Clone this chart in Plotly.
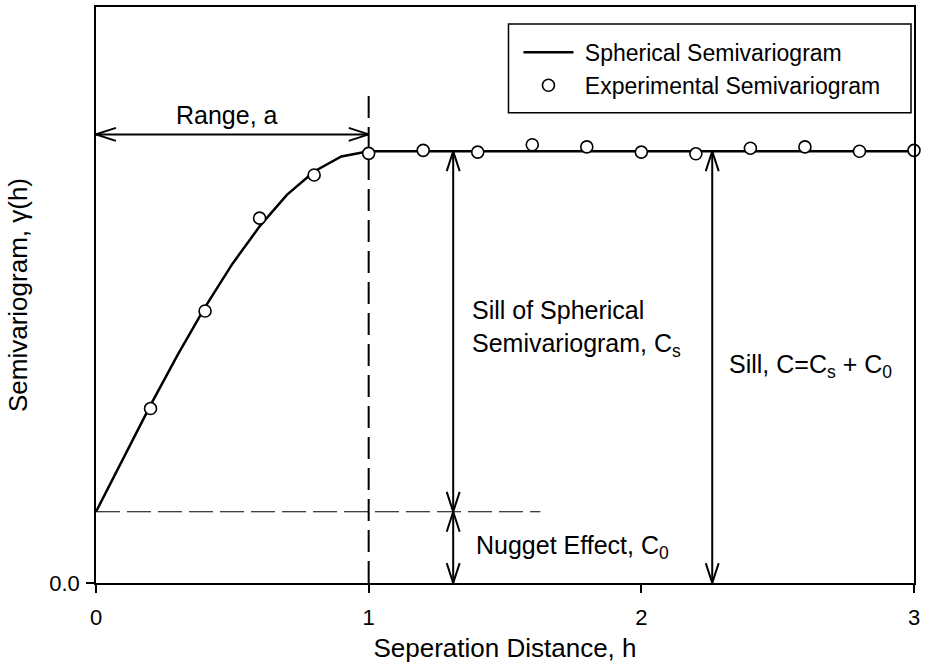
import plotly.graph_objects as go

# ---- data -------------------------------------------------------------
# fitted spherical model (nugget + spherical structure, range a = 1)
h_model = [0.0, 0.1, 0.2, 0.3, 0.4, 0.5, 0.6, 0.7, 0.8, 0.9, 1.0, 3.0]
gamma_model = [0.165, 0.290, 0.412, 0.529, 0.639, 0.739, 0.826, 0.899,
               0.953, 0.988, 1.000, 1.000]

# experimental semivariogram
h_exp = [0.2, 0.4, 0.6, 0.8, 1.0, 1.2, 1.4, 1.6, 1.8, 2.0, 2.2, 2.4, 2.6, 2.8, 3.0]
gamma_exp = [0.404, 0.630, 0.845, 0.945, 0.995, 1.002, 0.998, 1.015, 1.010,
             0.998, 0.994, 1.007, 1.010, 1.000, 1.002]

range_a = 1.0
nugget = 0.165
sill = 1.0

x_ticks = [0, 1, 2, 3]
x_tick_text = ["0", "1", "2", "3"]
y_ticks = [0]
y_tick_text = ["0.0"]

# ---- layout constants -------------------------------------------------
W, H = 925, 663
M_L, M_R, M_T, M_B = 96, 8, 5, 80
PLOT_W = W - M_L - M_R
PLOT_H = H - M_T - M_B
X_MAX = 3.0
Y_MAX = 1.334
PX_X = PLOT_W / X_MAX
PX_Y = PLOT_H / Y_MAX

FONT = "Liberation Sans, Arial, sans-serif"
BLACK = "black"


def paper_x(px):
    return (px - M_L) / PLOT_W


def paper_y(py):
    return (H - M_B - py) / PLOT_H


def arrow_trace(x0, y0, x1, y1, both=True, head_len=20, head_w=6.5, width=2):
    """Shaft from (x0,y0) to (x1,y1) with open V heads, sized in pixels."""
    xs, ys = [x0, x1, None], [y0, y1, None]

    def head(tx, ty, fx, fy):
        dx = (tx - fx) * PX_X
        dy = (ty - fy) * PX_Y
        n = (dx * dx + dy * dy) ** 0.5
        ux, uy = dx / n, dy / n
        px, py = -uy, ux
        bx = tx * PX_X - ux * head_len
        by = ty * PX_Y - uy * head_len
        a = ((bx + px * head_w) / PX_X, (by + py * head_w) / PX_Y)
        b = ((bx - px * head_w) / PX_X, (by - py * head_w) / PX_Y)
        return [a[0], tx, b[0], None], [a[1], ty, b[1], None]

    hx, hy = head(x1, y1, x0, y0)
    xs += hx
    ys += hy
    if both:
        hx, hy = head(x0, y0, x1, y1)
        xs += hx
        ys += hy
    return go.Scatter(x=xs, y=ys, mode="lines", showlegend=False,
                      hoverinfo="skip", cliponaxis=False,
                      line=dict(color=BLACK, width=width))


fig = go.Figure()

# nugget reference line
fig.add_trace(go.Scatter(
    x=[0, 1.63], y=[nugget, nugget], mode="lines", showlegend=False,
    hoverinfo="skip", line=dict(color=BLACK, width=1, dash="24px,7px")))

# range marker at h = a
fig.add_trace(go.Scatter(
    x=[range_a, range_a], y=[0, 1.138], mode="lines", showlegend=False,
    hoverinfo="skip", line=dict(color=BLACK, width=2, dash="22px,9px")))

# annotation arrows
x_cs = 1.31
x_sill = 2.26
y_range = 1.039
fig.add_trace(arrow_trace(0, y_range, range_a, y_range))
fig.add_trace(arrow_trace(x_cs, sill, x_cs, nugget))
fig.add_trace(arrow_trace(x_cs, nugget, x_cs, 0))
fig.add_trace(arrow_trace(x_sill, sill, x_sill, 0))

# model curve and experimental points
fig.add_trace(go.Scatter(
    x=h_model, y=gamma_model, mode="lines", name="\u00a0Spherical Semivariogram",
    line=dict(color=BLACK, width=2.5), cliponaxis=False))
fig.add_trace(go.Scatter(
    x=h_exp, y=gamma_exp, mode="markers", name="\u00a0Experimental Semivariogram",
    cliponaxis=False,
    marker=dict(symbol="circle", size=12, color="white",
                line=dict(color=BLACK, width=1.6))))

ann_font = dict(family=FONT, size=25, color=BLACK)
annotations = [
    dict(x=0.48, y=1.084, text="Range, a", xanchor="center", yanchor="middle"),
    dict(x=1.372, y=0.589, text="Sill of Spherical<br>Semivariogram, C<sub>s</sub>",
         xanchor="left", yanchor="middle", align="left"),
    dict(x=2.314, y=0.503, text="Sill, C=C<sub>s</sub> + C<sub>0</sub>",
         xanchor="left", yanchor="middle", align="left"),
    dict(x=1.387, y=0.083, text="Nugget Effect, C<sub>0</sub>",
         xanchor="left", yanchor="middle", align="left"),
]
for a in annotations:
    a.update(xref="x", yref="y", showarrow=False, font=ann_font)

axis_common = dict(
    showgrid=False, zeroline=False, showline=True, mirror=True,
    linecolor=BLACK, linewidth=1.5, ticks="outside", ticklen=8,
    tickwidth=1.5, tickcolor=BLACK,
    tickfont=dict(family=FONT, size=22, color=BLACK),
)

# legend frame
legend_box = dict(type="rect", xref="paper", yref="paper",
                  x0=paper_x(510), x1=paper_x(914),
                  y0=paper_y(111), y1=paper_y(22),
                  line=dict(color=BLACK, width=1.5), fillcolor="white",
                  layer="below")

fig.update_layout(
    width=W, height=H,
    margin=dict(l=M_L, r=M_R, t=M_T, b=M_B, pad=0),
    paper_bgcolor="white", plot_bgcolor="white",
    font=dict(family=FONT, color=BLACK),
    xaxis=dict(range=[0, X_MAX], tickvals=x_ticks, ticktext=x_tick_text,
               ticklabelstandoff=6,
               title=dict(text="Seperation Distance, h", standoff=10,
                          font=dict(family=FONT, size=26, color=BLACK)),
               **axis_common),
    yaxis=dict(range=[0, Y_MAX], tickvals=y_ticks, ticktext=y_tick_text,
               ticklabelstandoff=2,
               title=dict(text="Semivariogram, γ(h)", standoff=14,
                          font=dict(family=FONT, size=26, color=BLACK)),
               **axis_common),
    legend=dict(x=paper_x(520), y=paper_y(29), xanchor="left", yanchor="top",
                bgcolor="rgba(0,0,0,0)", borderwidth=0,
                font=dict(family=FONT, size=23, color=BLACK),
                itemwidth=50, tracegroupgap=0),
    shapes=[legend_box],
    annotations=annotations,
    showlegend=True,
)

fig.write_html("out.html")
